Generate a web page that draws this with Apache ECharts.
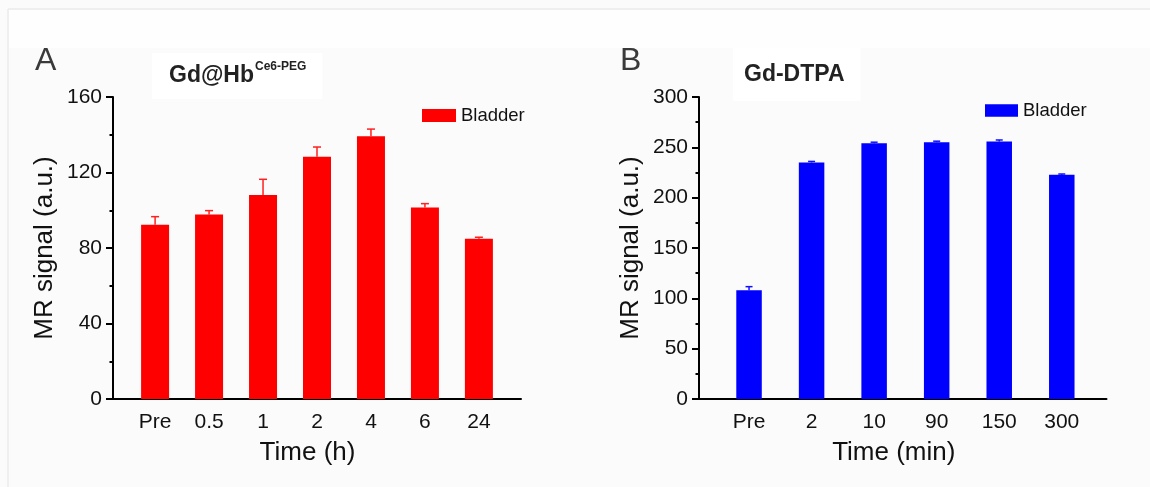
<!DOCTYPE html>
<html>
<head>
<meta charset="utf-8">
<script src="https://cdn.jsdelivr.net/npm/echarts@6/dist/echarts.min.js"></script>
<style>
  html, body { margin: 0; padding: 0; background: #fbfbfb; }
  #chart { width: 1150px; height: 487px; }
</style>
</head>
<body>
<div id="chart"></div>
<script>
// Panel A: Gd@Hb(Ce6-PEG), bladder MR signal over time (h)
const catsA = ['Pre', '0.5', '1', '2', '4', '6', '24'];
const valsA = [92.3, 97.8, 108.1, 128.4, 139.2, 101.4, 84.9];
const errA  = [4.3, 2.0, 8.3, 5.1, 3.8, 2.1, 0.8];
const ticksA = [0, 40, 80, 120, 160];

// Panel B: Gd-DTPA, bladder MR signal over time (min)
const catsB = ['Pre', '2', '10', '90', '150', '300'];
const valsB = [108.1, 235.0, 254.1, 255.1, 255.8, 222.7];
const errB  = [3.5, 1.0, 1.0, 1.0, 1.5, 0.8];
const ticksB = [0, 50, 100, 150, 200, 250, 300];

const FONT = "'Liberation Sans', Arial, sans-serif";

const chart = echarts.init(document.getElementById('chart'), null, { renderer: 'canvas' });

function xAxisFor(cats, min, max, name, gridIndex, namePad) {
  return {
    type: 'value', gridIndex, min, max,
    name, nameLocation: 'middle', nameGap: 41,
    nameTextStyle: { fontFamily: FONT, fontSize: 26, color: '#111', padding: namePad },
    axisLine: { show: true, onZero: false, lineStyle: { color: '#000', width: 2 } },
    axisTick: { show: false },
    splitLine: { show: false },
    axisLabel: {
      customValues: cats.map((c, i) => i),
      formatter: v => cats[Math.round(v)],
      fontFamily: FONT, fontSize: 21, color: '#111', margin: 13
    }
  };
}

function yAxisFor(ticks, gridIndex) {
  const step = ticks[1] - ticks[0];
  return {
    type: 'value', gridIndex,
    min: ticks[0], max: ticks[ticks.length - 1], interval: step,
    name: 'MR signal (a.u.)', nameLocation: 'middle', nameGap: 55, nameRotate: 90,
    nameTextStyle: { fontFamily: FONT, fontSize: 26, color: '#111' },
    axisLine: { show: true, onZero: false, lineStyle: { color: '#000', width: 2 } },
    axisTick: { show: true, inside: false, length: 7, lineStyle: { color: '#000', width: 2 } },
    minorTick: { show: true, splitNumber: 2, length: 3.5, lineStyle: { color: '#000', width: 2 } },
    splitLine: { show: false },
    axisLabel: { fontFamily: FONT, fontSize: 21, color: '#111', margin: 11 }
  };
}

function errorSeries(vals, errs, color, capHalf, xIdx) {
  return {
    type: 'custom', xAxisIndex: xIdx, yAxisIndex: xIdx, z: 1,
    data: vals.map((v, i) => [i, v, errs[i]]),
    renderItem: (params, api) => {
      const x = api.value(0), v = api.value(1), e = api.value(2);
      const base = api.coord([x, v]);
      const top = api.coord([x, v + e]);
      const style = { stroke: color, lineWidth: 1.5 };
      return {
        type: 'group',
        children: [
          { type: 'line', shape: { x1: base[0], y1: base[1], x2: top[0], y2: top[1] }, style },
          { type: 'line', shape: { x1: top[0] - capHalf, y1: top[1], x2: top[0] + capHalf, y2: top[1] }, style }
        ]
      };
    }
  };
}

const option = {
  backgroundColor: '#fbfbfb',
  animation: false,
  graphic: [
    { type: 'rect', shape: { x: 9, y: 10, width: 1141, height: 38 }, style: { fill: '#fefefe' }, z: -10 },
    { type: 'line', shape: { x1: 8, y1: 9, x2: 1150, y2: 9 }, style: { stroke: '#ebebeb', lineWidth: 1.5 }, z: -5 },
    { type: 'line', shape: { x1: 8, y1: 9, x2: 8, y2: 487 }, style: { stroke: '#ebebeb', lineWidth: 1.5 }, z: -5 },
    { type: 'text', left: 35, top: 45, style: { text: 'A', font: "32px " + FONT, fill: '#3a3a3a' } },
    { type: 'text', left: 620, top: 45, style: { text: 'B', font: "32px " + FONT, fill: '#3a3a3a' } }
  ],
  title: [
    {
      text: '{m|Gd@Hb}{s|Ce6-PEG}',
      left: 152, top: 53,
      backgroundColor: '#ffffff',
      padding: [8, 16, 12, 17],
      textStyle: {
        rich: {
          m: { fontFamily: FONT, fontSize: 23, fontWeight: 'bold', color: '#222', lineHeight: 26, verticalAlign: 'bottom' },
          s: { fontFamily: FONT, fontSize: 12, fontWeight: 'bold', color: '#222', lineHeight: 14, verticalAlign: 'top', padding: [0, 0, 0, 1] }
        }
      }
    },
    {
      text: 'Gd-DTPA',
      left: 733, top: 48,
      backgroundColor: '#ffffff',
      padding: [15, 16, 15, 11],
      textStyle: { fontFamily: FONT, fontSize: 23, fontWeight: 'bold', color: '#222' }
    }
  ],
  legend: [
    {
      left: 422, top: 106, padding: 0, itemWidth: 34, itemHeight: 13, itemGap: 5,
      data: [{ name: 'Bladder', icon: 'rect' }],
      textStyle: { fontFamily: FONT, fontSize: 18.5, color: '#111' },
      selectedMode: false
    },
    {
      left: 985, top: 101, padding: 0, itemWidth: 33, itemHeight: 12.5, itemGap: 5,
      data: [{ name: 'Bladder ', icon: 'rect' }],
      formatter: n => n.trim(),
      textStyle: { fontFamily: FONT, fontSize: 18.5, color: '#111' },
      selectedMode: false
    }
  ],
  grid: [
    { left: 113, top: 97, width: 408, height: 302 },
    { left: 699, top: 97, width: 407.5, height: 302 }
  ],
  xAxis: [
    xAxisFor(catsA, -0.78, 6.78, 'Time (h)', 0, [0, 19, 0, 0]),
    xAxisFor(catsB, -0.8, 5.715, 'Time (min)', 1, [0, 18, 0, 0])
  ],
  yAxis: [yAxisFor(ticksA, 0), yAxisFor(ticksB, 1)],
  series: [
    {
      name: 'Bladder', type: 'bar', xAxisIndex: 0, yAxisIndex: 0,
      barWidth: 28, itemStyle: { color: '#ff0000' },
      data: valsA.map((v, i) => [i, v]), z: 2
    },
    errorSeries(valsA, errA, '#ff2020', 4, 0),
    {
      name: 'Bladder ', type: 'bar', xAxisIndex: 1, yAxisIndex: 1,
      barWidth: 25.5, itemStyle: { color: '#0000ff' },
      data: valsB.map((v, i) => [i, v]), z: 2
    },
    errorSeries(valsB, errB, '#1010ff', 3.5, 1)
  ]
};

chart.setOption(option);
</script>
</body>
</html>
